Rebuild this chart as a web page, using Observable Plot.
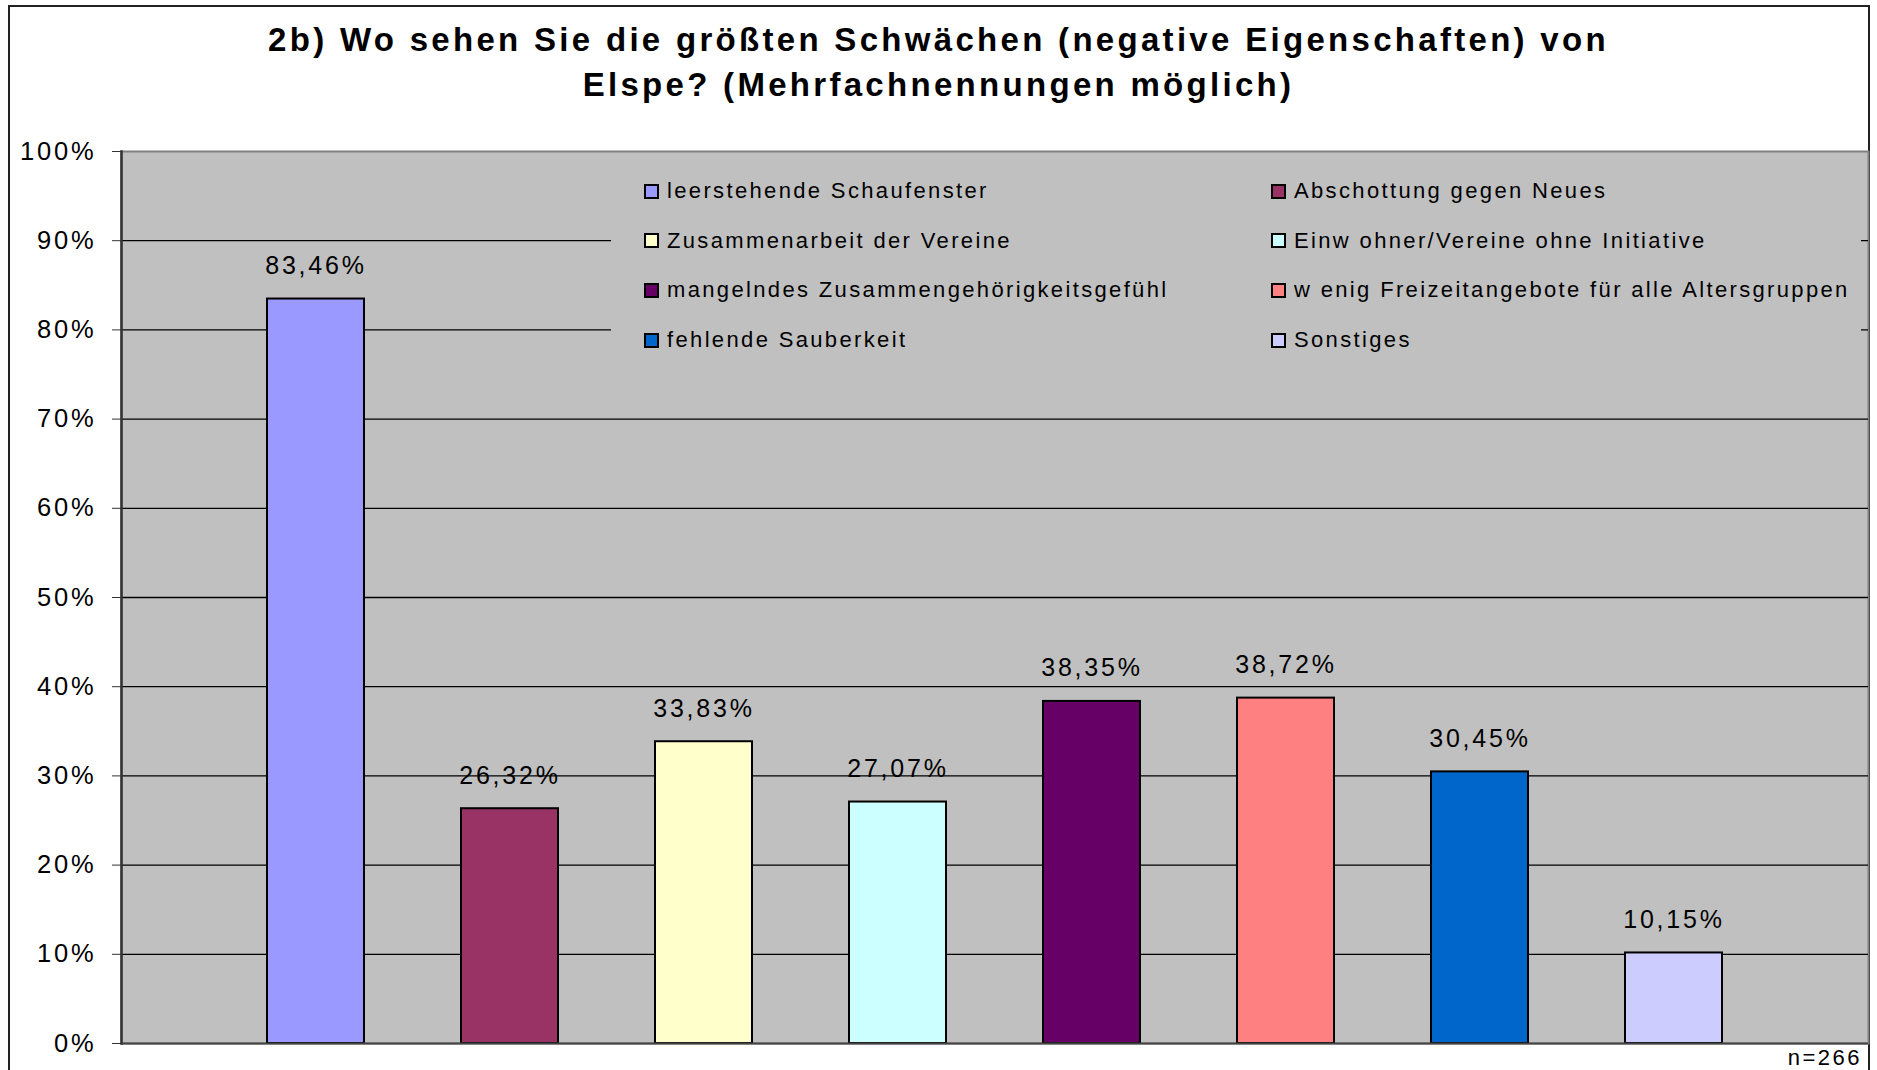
<!DOCTYPE html>
<html>
<head>
<meta charset="utf-8">
<script src="https://cdn.jsdelivr.net/npm/d3@7"></script>
<script src="https://cdn.jsdelivr.net/npm/@observablehq/plot@0.6"></script>
<style>
  html, body { margin: 0; padding: 0; background: #fff; }
  #wrap { position: relative; width: 1877px; height: 1070px; overflow: hidden; background: #fff;
          font-family: "Liberation Sans", Arial, sans-serif; color: #000; }
  #border { position: absolute; left: 8px; top: 5px; width: 1862px; height: 1200px;
            border: 2px solid #222; box-sizing: border-box; }
  #title { position: absolute; left: 0; top: 17px; width: 1877px; text-align: center;
           font-weight: bold; font-size: 33px; letter-spacing: 3.3px; line-height: 45px; }
  #chart { position: absolute; left: 0; top: 110px; }
  #chart svg text { letter-spacing: 2.8px; }
  #legend { position: absolute; left: 611px; top: 160px; width: 1250px; height: 205px; background: #C0C0C0; }
  .item { position: absolute; display: flex; align-items: center; height: 30px;
          font-size: 22px; letter-spacing: 2.35px; white-space: nowrap; }
  .sw { width: 15px; height: 15px; border: 2px solid #000; box-sizing: border-box; margin-right: 8px; flex: none; }
  #note { position: absolute; right: 15px; top: 1047px; font-size: 22px; line-height: 22px; letter-spacing: 2.5px; }
</style>
</head>
<body>
<div id="wrap">
  <div id="border"></div>
  <div id="title">2b) Wo sehen Sie die größten Schwächen (negative Eigenschaften) von<br>Elspe? (Mehrfachnennungen möglich)</div>
  <div id="chart"></div>
  <div id="legend"></div>
  <div id="note">n=266</div>
</div>
<script>
const categories = [
  "leerstehende Schaufenster",
  "Abschottung gegen Neues",
  "Zusammenarbeit der Vereine",
  "Einw ohner/Vereine ohne Initiative",
  "mangelndes Zusammengehörigkeitsgefühl",
  "w enig Freizeitangebote für alle Altersgruppen",
  "fehlende Sauberkeit",
  "Sonstiges"
];
const values = [83.46, 26.32, 33.83, 27.07, 38.35, 38.72, 30.45, 10.15];
const colors = ["#9999FF", "#993366", "#FFFFCC", "#CCFFFF", "#660066", "#FF8080", "#0066CC", "#CCCCFF"];
const yTicks = [0, 10, 20, 30, 40, 50, 60, 70, 80, 90, 100];
const gridTicks = [10, 20, 30, 40, 50, 60, 70, 80, 90];

const data = categories.map((c, i) => ({cat: c, value: values[i]}));
const fmt = v => v.toFixed(2).replace(".", ",") + "%";

const chart = Plot.plot({
  width: 1877,
  height: 960,
  marginTop: 41,
  marginBottom: 27,
  marginLeft: 121,
  marginRight: 9,
  style: {fontFamily: "'Liberation Sans', Arial, sans-serif", background: "transparent", color: "#000"},
  x: {domain: categories, paddingInner: 0.5, paddingOuter: 0.75, axis: null},
  y: {domain: [0, 100], axis: null},
  color: {domain: categories, range: colors},
  marks: [
    Plot.frame({fill: "#C0C0C0", stroke: "#808080", strokeWidth: 2}),
    Plot.ruleY(gridTicks, {stroke: "#000", strokeWidth: 1.3}),
    Plot.barY(data, {x: "cat", y: "value", fill: "cat", stroke: "#000", strokeWidth: 2}),
    Plot.text(data, {x: "cat", y: "value", text: d => fmt(d.value), dy: -33, lineAnchor: "middle", fontSize: 25, fill: "#000"}),
    Plot.ruleY([0], {stroke: "#444", strokeWidth: 2}),
    Plot.frame({anchor: "left", stroke: "#333", strokeWidth: 2.5}),
    Plot.axisY({ticks: yTicks, tickFormat: d => d + "%", tickSize: 9, tickPadding: 16, fontSize: 25.5, stroke: "#333", label: null})
  ]
});
document.getElementById("chart").appendChild(chart);

const legend = document.getElementById("legend");
const colX = [644, 1271];
categories.forEach((c, i) => {
  const row = Math.floor(i / 2), col = i % 2;
  const item = document.createElement("div");
  item.className = "item";
  item.style.left = (colX[col] - 611) + "px";
  item.style.top = (191 + row * 49.7 - 15 - 160) + "px";
  const sw = document.createElement("div");
  sw.className = "sw";
  sw.style.background = colors[i];
  const t = document.createElement("span");
  t.textContent = c;
  item.appendChild(sw);
  item.appendChild(t);
  legend.appendChild(item);
});
</script>
</body>
</html>
